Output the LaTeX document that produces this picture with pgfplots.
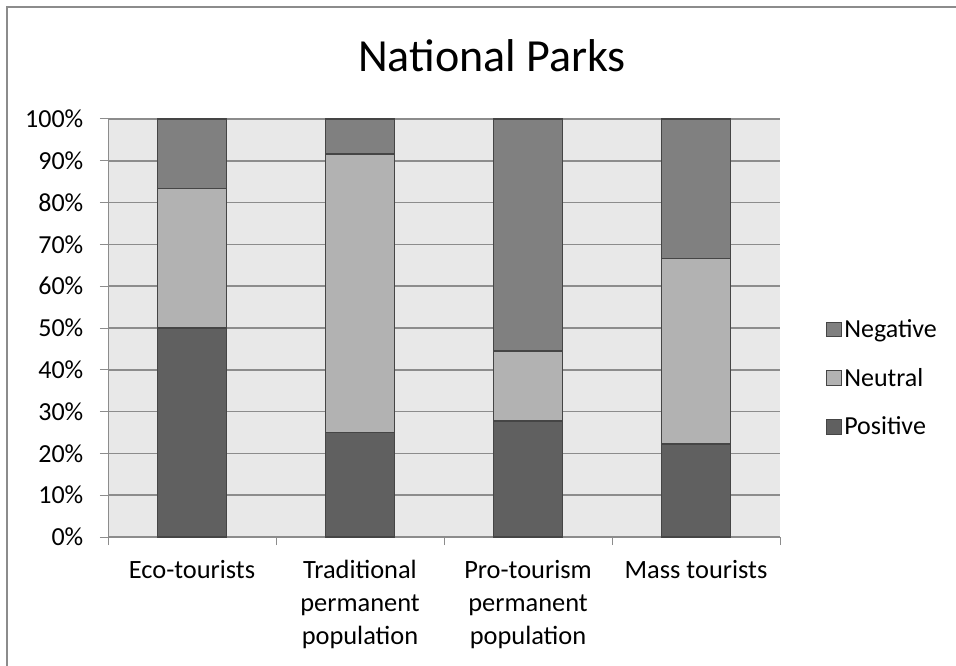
\documentclass[border=0pt]{standalone}
\usepackage{pgfplots}
\pgfplotsset{compat=1.18}
\usepackage{fontspec}
\setmainfont{Carlito}
\definecolor{negc}{HTML}{808080}
\definecolor{neuc}{HTML}{B2B2B2}
\definecolor{posc}{HTML}{606060}
\definecolor{bgc}{HTML}{E8E8E8}
\definecolor{gridc}{HTML}{8C8C8C}
\definecolor{edgec}{HTML}{454545}
\begin{document}
\begin{tikzpicture}
\useasboundingbox (0,0) rectangle (717pt,-499.5pt);
\draw[gridc, line width=1.5pt] (4.9pt,-520pt) -- (4.9pt,-4.9pt) -- (740pt,-4.9pt);
\node[anchor=base, font=\fontsize{34.5}{40}\selectfont] at (369pt,-54pt) {National Parks};
\begin{axis}[
  at={(81pt,-402.75pt)}, anchor=south west,
  scale only axis, width=504pt, height=313.5pt,
  ybar stacked, bar width=51.75pt,
  xmin=-0.5, xmax=3.5, ymin=0, ymax=100,
  axis background/.style={fill=bgc},
  xtick={0,1,2,3},
  xticklabels={Eco-tourists, Traditional\\permanent\\population, Pro-tourism\\permanent\\population, Mass tourists},
  xticklabel style={align=center, anchor=north, yshift=-8pt, font=\fontsize{19.8}{24.75}\selectfont},
  major x tick style={draw=none},
  minor xtick={-0.5,0.5,1.5,2.5,3.5},
  minor x tick style={gridc, line width=0.75pt},
  ytick={0,10,...,100},
  yticklabel={\pgfmathprintnumber{\tick}\%},
  yticklabel style={font=\fontsize{19.5}{22}\selectfont, xshift=-9pt},
  /pgf/number format/assume math mode=true,
  ymajorgrids, grid style={gridc, line width=1.1pt},
  y tick style={gridc, line width=0.75pt},
  tick align=outside, major tick length=6pt, minor tick length=6pt,
  axis line style={gridc, line width=0.75pt},
  axis x line*=bottom, axis y line*=left,
  axis on top=false,
  legend style={at={(1.062,0.38)}, anchor=west, draw=none, fill=none,
    font=\fontsize{19.5}{22}\selectfont, row sep=17.5pt,
    /tikz/every even column/.append style={column sep=2pt}},
  legend cell align=left,
  reverse legend,
  legend image code/.code={\draw[#1, draw=edgec, line width=0.75pt] (0pt,-5.5pt) rectangle (11pt,5.5pt);},
  every axis plot/.append style={draw=edgec, line width=1.1pt},
]
\addplot[fill=posc] coordinates {(0,50) (1,25) (2,27.78) (3,22.22)};
\addplot[fill=neuc] coordinates {(0,33.33) (1,66.67) (2,16.67) (3,44.44)};
\addplot[fill=negc] coordinates {(0,16.67) (1,8.33) (2,55.55) (3,33.34)};
\legend{Positive, Neutral, Negative}
\end{axis}
\end{tikzpicture}
\end{document}
